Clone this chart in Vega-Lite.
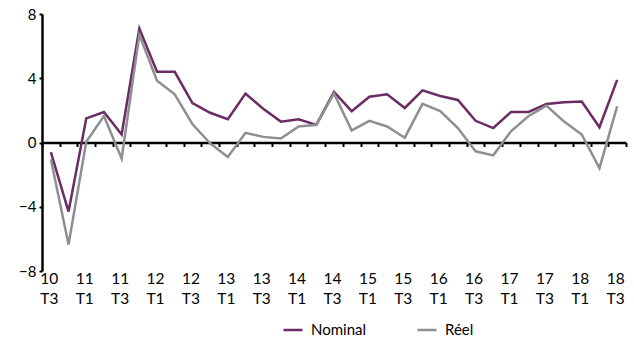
{
  "$schema": "https://vega.github.io/schema/vega-lite/v6.json",
  "width": 584,
  "height": 257,
  "autosize": {"type": "none"},
  "padding": {"left": 42, "top": 14, "right": 8, "bottom": 72},
  "config": {
    "view": {"stroke": null},
    "font": "Lato",
    "axis": {"labelFont": "Lato", "labelColor": "#000", "labelFontSize": 15, "grid": false}
  },
  "datasets": {
    "d": [
      {"q": "10 T3", "s": "Nominal", "v": -0.6}, {"q": "10 T4", "s": "Nominal", "v": -4.3},
      {"q": "11 T1", "s": "Nominal", "v": 1.5}, {"q": "11 T2", "s": "Nominal", "v": 1.9},
      {"q": "11 T3", "s": "Nominal", "v": 0.5}, {"q": "11 T4", "s": "Nominal", "v": 7.1},
      {"q": "12 T1", "s": "Nominal", "v": 4.4}, {"q": "12 T2", "s": "Nominal", "v": 4.4},
      {"q": "12 T3", "s": "Nominal", "v": 2.45}, {"q": "12 T4", "s": "Nominal", "v": 1.85},
      {"q": "13 T1", "s": "Nominal", "v": 1.45}, {"q": "13 T2", "s": "Nominal", "v": 3.05},
      {"q": "13 T3", "s": "Nominal", "v": 2.1}, {"q": "13 T4", "s": "Nominal", "v": 1.3},
      {"q": "14 T1", "s": "Nominal", "v": 1.45}, {"q": "14 T2", "s": "Nominal", "v": 1.1},
      {"q": "14 T3", "s": "Nominal", "v": 3.15}, {"q": "14 T4", "s": "Nominal", "v": 1.95},
      {"q": "15 T1", "s": "Nominal", "v": 2.85}, {"q": "15 T2", "s": "Nominal", "v": 3.0},
      {"q": "15 T3", "s": "Nominal", "v": 2.15}, {"q": "15 T4", "s": "Nominal", "v": 3.25},
      {"q": "16 T1", "s": "Nominal", "v": 2.9}, {"q": "16 T2", "s": "Nominal", "v": 2.65},
      {"q": "16 T3", "s": "Nominal", "v": 1.35}, {"q": "16 T4", "s": "Nominal", "v": 0.9},
      {"q": "17 T1", "s": "Nominal", "v": 1.9}, {"q": "17 T2", "s": "Nominal", "v": 1.9},
      {"q": "17 T3", "s": "Nominal", "v": 2.4}, {"q": "17 T4", "s": "Nominal", "v": 2.5},
      {"q": "18 T1", "s": "Nominal", "v": 2.55}, {"q": "18 T2", "s": "Nominal", "v": 0.95},
      {"q": "18 T3", "s": "Nominal", "v": 3.9},
      {"q": "10 T3", "s": "Réel", "v": -1.05}, {"q": "10 T4", "s": "Réel", "v": -6.35},
      {"q": "11 T1", "s": "Réel", "v": 0.05}, {"q": "11 T2", "s": "Réel", "v": 1.65},
      {"q": "11 T3", "s": "Réel", "v": -1.0}, {"q": "11 T4", "s": "Réel", "v": 6.7},
      {"q": "12 T1", "s": "Réel", "v": 3.85}, {"q": "12 T2", "s": "Réel", "v": 3.0},
      {"q": "12 T3", "s": "Réel", "v": 1.15}, {"q": "12 T4", "s": "Réel", "v": -0.05},
      {"q": "13 T1", "s": "Réel", "v": -0.9}, {"q": "13 T2", "s": "Réel", "v": 0.6},
      {"q": "13 T3", "s": "Réel", "v": 0.35}, {"q": "13 T4", "s": "Réel", "v": 0.25},
      {"q": "14 T1", "s": "Réel", "v": 1.0}, {"q": "14 T2", "s": "Réel", "v": 1.1},
      {"q": "14 T3", "s": "Réel", "v": 3.05}, {"q": "14 T4", "s": "Réel", "v": 0.75},
      {"q": "15 T1", "s": "Réel", "v": 1.35}, {"q": "15 T2", "s": "Réel", "v": 1.0},
      {"q": "15 T3", "s": "Réel", "v": 0.3}, {"q": "15 T4", "s": "Réel", "v": 2.4},
      {"q": "16 T1", "s": "Réel", "v": 1.95}, {"q": "16 T2", "s": "Réel", "v": 0.9},
      {"q": "16 T3", "s": "Réel", "v": -0.55}, {"q": "16 T4", "s": "Réel", "v": -0.8},
      {"q": "17 T1", "s": "Réel", "v": 0.7}, {"q": "17 T2", "s": "Réel", "v": 1.65},
      {"q": "17 T3", "s": "Réel", "v": 2.3}, {"q": "17 T4", "s": "Réel", "v": 1.3},
      {"q": "18 T1", "s": "Réel", "v": 0.5}, {"q": "18 T2", "s": "Réel", "v": -1.6},
      {"q": "18 T3", "s": "Réel", "v": 2.25}
    ]
  },
  "data": {"name": "d"},
  "mark": {"type": "line", "strokeWidth": 2.5, "strokeJoin": "miter"},
  "encoding": {
    "x": {
      "field": "q", "type": "ordinal", "sort": null,
      "scale": {"type": "band", "paddingInner": 0, "paddingOuter": 0},
      "axis": {
        "title": null, "orient": "bottom", "offset": -128.5,
        "domainColor": "#000", "domainWidth": 2.5,
        "tickBand": "extent", "tickColor": "#000", "tickWidth": 2, "tickSize": 4,
        "labelAngle": 0, "labelAlign": "center", "labelBaseline": "top",
        "labelPadding": 125, "labelLineHeight": 20, "labelOffset": -2,
        "labelOverlap": false, "labelFontSize": 15.5,
        "labelExpr": "test(/T[13]$/, datum.value) ? split(datum.value, ' ') : ''"
      }
    },
    "y": {
      "field": "v", "type": "quantitative",
      "scale": {"domain": [-8, 8], "nice": false},
      "axis": {
        "title": null, "values": [-8, -4, 0, 4, 8],
        "domainColor": "#000", "domainWidth": 2.5,
        "tickColor": "#000", "tickWidth": 2, "tickSize": 3,
        "labelPadding": 3, "labelFontSize": 15
      }
    },
    "color": {
      "field": "s", "type": "nominal",
      "scale": {"domain": ["Nominal", "Réel"], "range": ["#6b2b64", "#8d8f92"]},
      "legend": {
        "title": null, "orient": "none", "direction": "horizontal",
        "legendX": 240, "legendY": 305,
        "symbolType": "stroke", "symbolStrokeWidth": 2.5, "symbolSize": 360,
        "labelFontSize": 15, "labelFont": "Lato", "labelColor": "#000",
        "labelOffset": 7, "columnPadding": 45
      }
    }
  }
}
